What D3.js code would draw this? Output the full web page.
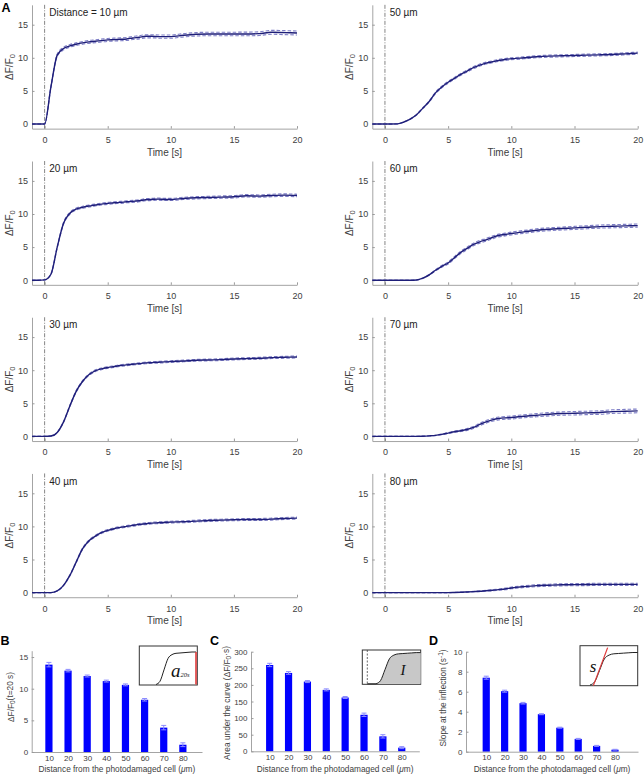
<!DOCTYPE html>
<html><head><meta charset="utf-8">
<script src="https://cdn.jsdelivr.net/npm/d3@7"></script>
<style>
body{margin:0;background:#fff;}
svg{display:block;font-family:"Liberation Sans",Arial,sans-serif;}
</style></head><body>
<svg id="c" width="644" height="776"></svg>
<script>
// ---------- DATA ----------
const times=[-1,-0.5,0,0.5,1,1.5,2,2.5,3,3.5,4,4.5,5,5.5,6,6.5,7,7.5,8,8.5,9,9.5,10,11,12,13,14,15,16,17,18,19,20];
const panelLabels=["Distance = 10 µm","20 µm","30 µm","40 µm","50 µm","60 µm","70 µm","80 µm"];
const mean10=[0,0,0,5.6,10.4,11.4,11.8,12.05,12.25,12.4,12.5,12.6,12.7,12.75,12.8,12.85,13.0,13.1,13.25,13.25,13.2,13.2,13.2,13.4,13.55,13.6,13.6,13.6,13.6,13.65,13.85,13.8,13.75];
const mean20=[0,0,0.05,0.9,5.0,8.6,10.1,10.75,11.0,11.2,11.35,11.5,11.6,11.7,11.75,11.85,11.9,12.0,12.15,12.2,12.25,12.2,12.2,12.35,12.45,12.5,12.55,12.6,12.75,12.7,12.8,12.85,12.8];
const mean30=[0,0,0,0.05,0.6,2.2,4.6,6.8,8.3,9.3,9.9,10.2,10.4,10.55,10.7,10.8,10.9,11.0,11.1,11.15,11.2,11.25,11.3,11.4,11.5,11.55,11.6,11.7,11.75,11.8,11.9,11.95,12.0];
const mean40=[0,0,0,0,0.25,1.1,2.6,4.6,6.6,7.8,8.5,9.05,9.4,9.65,9.85,10.0,10.15,10.3,10.4,10.5,10.55,10.6,10.65,10.7,10.8,10.9,10.95,11.0,11.05,11.05,11.1,11.2,11.25];
const mean50=[0,0,0,0,0.02,0.3,0.75,1.4,2.4,3.4,4.7,5.6,6.3,6.9,7.5,8.0,8.5,8.9,9.2,9.4,9.6,9.75,9.85,10.0,10.15,10.25,10.3,10.35,10.4,10.45,10.5,10.6,10.7];
const mean60=[0,0,0,0,0,0,0,0.03,0.3,0.8,1.5,2.1,2.6,3.4,4.2,4.8,5.4,5.8,6.1,6.45,6.75,6.9,7.05,7.3,7.55,7.7,7.8,7.9,8.0,8.1,8.15,8.2,8.25];
const mean70=[0,0,0,0,0,0,0,0,0.03,0.08,0.15,0.3,0.5,0.7,0.85,1.05,1.35,1.8,2.2,2.5,2.7,2.8,2.85,3.05,3.2,3.35,3.45,3.5,3.55,3.6,3.75,3.8,3.85];
const mean80=[0,0,0,0,0,0,0,0,0,0,0,0,0,0.02,0.05,0.1,0.15,0.2,0.28,0.35,0.45,0.55,0.7,0.9,1.05,1.12,1.18,1.2,1.22,1.25,1.25,1.25,1.25];
const sem10=[0,0,0,0.08,0.18,0.2,0.2,0.2,0.2,0.22,0.22,0.22,0.22,0.22,0.22,0.22,0.24,0.24,0.24,0.24,0.24,0.25,0.25,0.25,0.26,0.26,0.27,0.27,0.28,0.28,0.3,0.3,0.3];
const sem20=[0,0,0,0.05,0.12,0.15,0.15,0.15,0.15,0.15,0.15,0.15,0.15,0.15,0.15,0.15,0.16,0.16,0.16,0.16,0.16,0.16,0.16,0.17,0.17,0.17,0.18,0.18,0.18,0.18,0.19,0.19,0.19];
const sem30=[0,0,0,0,0.03,0.06,0.1,0.12,0.12,0.12,0.12,0.12,0.12,0.12,0.12,0.12,0.12,0.12,0.12,0.13,0.13,0.13,0.13,0.13,0.13,0.13,0.14,0.14,0.14,0.14,0.14,0.15,0.15];
const sem40=[0,0,0,0,0.02,0.05,0.08,0.1,0.12,0.12,0.12,0.12,0.12,0.12,0.12,0.12,0.13,0.13,0.13,0.13,0.13,0.13,0.13,0.14,0.14,0.14,0.14,0.14,0.15,0.15,0.15,0.15,0.15];
const sem50=[0,0,0,0,0,0.02,0.04,0.06,0.08,0.1,0.12,0.13,0.14,0.14,0.15,0.15,0.15,0.15,0.15,0.15,0.15,0.15,0.15,0.15,0.15,0.16,0.16,0.16,0.16,0.16,0.16,0.16,0.16];
const sem60=[0,0,0,0,0,0,0,0.01,0.03,0.06,0.1,0.13,0.15,0.17,0.18,0.19,0.2,0.2,0.2,0.21,0.21,0.21,0.21,0.22,0.22,0.22,0.22,0.23,0.23,0.23,0.24,0.24,0.24];
const sem70=[0,0,0,0,0,0,0,0,0.01,0.02,0.03,0.05,0.08,0.1,0.12,0.14,0.16,0.18,0.2,0.21,0.22,0.22,0.22,0.23,0.24,0.25,0.25,0.26,0.26,0.27,0.27,0.28,0.28];
const sem80=[0,0,0,0,0,0,0,0,0,0,0,0,0,0.01,0.02,0.03,0.04,0.05,0.06,0.08,0.1,0.12,0.13,0.14,0.15,0.15,0.16,0.16,0.16,0.17,0.17,0.17,0.17];
const xTicksA=[0,5,10,15,20];
const yTicksA=[0,5,10,15];

const barCats=["10","20","30","40","50","60","70","80"];
const ampVals=[13.8,12.85,12.0,11.2,10.6,8.25,3.85,1.15];
const ampErr=[0.35,0.2,0.15,0.15,0.15,0.2,0.35,0.3];
const aucVals=[260,236,210,185,162,110,45,11];
const aucErr=[5,4,3,3,3,5,5,3];
const slopeVals=[7.4,6.05,4.85,3.75,2.4,1.28,0.58,0.2];
const slopeErr=[0.15,0.1,0.08,0.05,0.05,0.05,0.05,0.04];
const yTicksB=[0,5,10,15];
const yTicksC=[0,50,100,150,200,250,300];
const yTicksD=[0,2,4,6,8,10];

// inset illustration curve (normalised)
const insetX=[0,1,2,3,4,5,6,7,8,9,10];
const insetY=[0,0.1,0.45,0.8,0.92,0.96,0.97,0.98,0.99,1.0,1.0];

// ---------- DRAW ----------
const svg=d3.select("#c");
const AX="#9a9a9a", TX="#404040";
const means=[mean10,mean20,mean30,mean40,mean50,mean60,mean70,mean80];
const sems=[sem10,sem20,sem30,sem40,sem50,sem60,sem70,sem80];
const cols=[[32,297],[372.3,637.7]];
const unit=6.62;

function styleAxis(g,fs){
  g.select(".domain").attr("stroke",AX).attr("stroke-width",0.9);
  g.selectAll(".tick line").attr("stroke",AX);
  g.selectAll(".tick text").attr("fill",TX).attr("font-size",fs).attr("font-family","'Liberation Sans',Arial,sans-serif");
}

means.forEach((m,i)=>{
  const c=i<4?0:1, r=i%4;
  const y0=124+r*156.2;
  const x=d3.scaleLinear().domain([-1,20]).range(cols[c]);
  const y=d3.scaleLinear().domain([-0.7,18]).range([y0+0.7*unit,y0-18*unit]);
  const g=svg.append("g");
  const gx=g.append("g").attr("transform",`translate(0,${y(-0.7)})`)
    .call(d3.axisBottom(x).tickValues(xTicksA).tickSize(-2.5).tickSizeOuter(0).tickPadding(8));
  styleAxis(gx,9);
  const gy=g.append("g").attr("transform",`translate(${x(-1)},0)`)
    .call(d3.axisLeft(y).tickValues(yTicksA).tickSize(-2.5).tickSizeOuter(0).tickPadding(4));
  styleAxis(gy,9);
  // t=0 marker
  g.append("line").attr("x1",x(0)).attr("x2",x(0)).attr("y1",y(18)).attr("y2",y(-0.7))
    .attr("stroke","#666").attr("stroke-width",0.8).attr("stroke-dasharray","4,1.5,1,1.5");
  const s=sems[i];
  const line=d3.line().x((d,k)=>x(times[k])).curve(d3.curveMonotoneX);
  [1,-1].forEach(sg=>{
    g.append("path").attr("d",line.y((d,k)=>y(m[k]+sg*s[k]))(m)).attr("fill","none")
      .attr("stroke","#7e7ec6").attr("stroke-width",1.1).attr("stroke-dasharray","3.5,2");
  });
  g.append("path").attr("d",line.y((d,k)=>y(m[k]))(m)).attr("fill","none")
    .attr("stroke","#1e1e78").attr("stroke-width",1.4);
  g.append("text").attr("x",x(0)+4.7).attr("y",y0-108).attr("font-size",10).attr("fill","#222").text(panelLabels[i]);
  g.append("text").attr("x",(cols[c][0]+cols[c][1])/2).attr("y",y0+31.5).attr("text-anchor","middle")
    .attr("font-size",10).attr("fill",TX).text("Time [s]");
  const t=g.append("text").attr("transform",`translate(${cols[c][0]-19.5},${y0-57}) rotate(-90)`)
    .attr("text-anchor","middle").attr("font-size",10).attr("fill",TX);
  t.append("tspan").text("ΔF/F");
  t.append("tspan").attr("dy","0.28em").attr("font-size",7.5).text("0");
});

// ---------- BAR PANELS ----------
function barPanel(cfg){
  const g=svg.append("g");
  const x=d3.scaleLinear().domain(cfg.xd).range(cfg.xr);
  const y=d3.scaleLinear().domain(cfg.yd).range(cfg.yr);
  const bw=7.2;
  g.selectAll("rect.bar").data(cfg.vals).join("rect").attr("class","bar")
    .attr("x",(d,k)=>x(k+1)-bw/2).attr("width",bw)
    .attr("y",d=>y(d)).attr("height",d=>y(cfg.yd[0])-y(d)).attr("fill","#0000ff");
  cfg.vals.forEach((v,k)=>{
    const e=cfg.err[k], cx=x(k+1);
    g.append("line").attr("x1",cx).attr("x2",cx).attr("y1",y(v-e)).attr("y2",y(v+e)).attr("stroke","#8c8cff").attr("stroke-width",1);
    [v-e,v+e].forEach(yy=>g.append("line").attr("x1",cx-2.5).attr("x2",cx+2.5).attr("y1",y(yy)).attr("y2",y(yy)).attr("stroke","#8c8cff").attr("stroke-width",1));
  });
  const gx=g.append("g").attr("transform",`translate(0,${cfg.yr[0]})`)
    .call(d3.axisBottom(x).tickValues([1,2,3,4,5,6,7,8]).tickFormat((d,k)=>barCats[k]).tickSize(0).tickSizeOuter(0).tickPadding(3));
  styleAxis(gx,8);
  const gy=g.append("g").attr("transform",`translate(${cfg.xr[0]},0)`)
    .call(d3.axisLeft(y).tickValues(cfg.yt).tickSize(-2.5).tickSizeOuter(0).tickPadding(3.5));
  styleAxis(gy,8);
  const xl=g.append("text").attr("x",(cfg.xr[0]+cfg.xr[1])/2).attr("y",771.5).attr("text-anchor","middle")
    .attr("font-size",8.3).attr("fill",TX);
  xl.append("tspan").text("Distance from the photodamaged cell (");
  xl.append("tspan").attr("font-style","italic").text("μ");
  xl.append("tspan").text("m)");
  const yl=g.append("text").attr("transform",`translate(${cfg.ylx},${cfg.yly}) rotate(-90)`)
    .attr("text-anchor","middle").attr("font-size",8.3).attr("fill",TX);
  cfg.ylabel(yl);
  g.append("text").attr("x",cfg.lx).attr("y",645).attr("font-size",12.5).attr("font-weight","bold").attr("fill","#000").text(cfg.letter);
  return g;
}

barPanel({xd:[0.1,9],xr:[31.7,202],yd:[0,16],yr:[752,650.7],vals:ampVals,err:ampErr,yt:yTicksB,
  ylx:13.5,yly:697,lx:0.5,letter:"B",
  ylabel:t=>{t.append("tspan").text("ΔF/F");t.append("tspan").attr("dy","0.3em").attr("font-size",6.5).text("0");t.append("tspan").attr("dy","-0.3em").text("(t=20 s)");}});
barPanel({xd:[0.01,8.93],xr:[251,419.3],yd:[0,300],yr:[751.3,651.7],vals:aucVals,err:aucErr,yt:yTicksC,
  ylx:229.5,yly:703,lx:210,letter:"C",
  ylabel:t=>{t.append("tspan").text("Area under the curve (ΔF/F");t.append("tspan").attr("dy","0.3em").attr("font-size",6.5).text("0");t.append("tspan").attr("dy","-0.3em").text("·s)");}});
barPanel({xd:[-0.1,9.25],xr:[466,638],yd:[0,10],yr:[751.7,651.7],vals:slopeVals,err:slopeErr,yt:yTicksD,
  ylx:445.5,yly:698,lx:429,letter:"D",
  ylabel:t=>{t.append("tspan").text("Slope at the inflection (s");t.append("tspan").attr("dy","-0.4em").attr("font-size",6.5).text("-1");t.append("tspan").attr("dy","0.4em").text(")");}});

// ---------- INSETS ----------
function insetBox(x0,x1,y0,y1){
  svg.append("rect").attr("x",x0).attr("y",y0).attr("width",x1-x0).attr("height",y1-y0)
    .attr("fill","#fff").attr("stroke","#333").attr("stroke-width",1);
}
// B inset
insetBox(139.3,197.3,646,685);
{
  const x=d3.scaleLinear().domain([0,10]).range([156,196]);
  const y=d3.scaleLinear().domain([0,1]).range([684.5,652]);
  svg.append("path").attr("d",d3.line().x((d,k)=>x(insetX[k])).y(d=>y(d)).curve(d3.curveMonotoneX)(insetY))
    .attr("fill","none").attr("stroke","#222").attr("stroke-width",1);
  svg.append("line").attr("x1",x(10)).attr("x2",x(10)).attr("y1",y(1)).attr("y2",y(0)).attr("stroke","#e03a3a").attr("stroke-width",1.6);
  const t=svg.append("text").attr("x",171).attr("y",677).attr("font-family","'Liberation Serif','DejaVu Serif',serif").attr("font-style","italic").attr("fill","#111");
  t.append("tspan").attr("font-size",19).text("a");
  t.append("tspan").attr("font-size",6.5).attr("dy",0).text("20s");
}
// C inset
insetBox(362.3,420.7,650,684.3);
{
  const x=d3.scaleLinear().domain([0,10]).range([376,420.7]);
  const y=d3.scaleLinear().domain([0,1]).range([683.8,652.6]);
  svg.append("path").attr("d",d3.area().x((d,k)=>x(insetX[k])).y0(y(0)).y1(d=>y(d)).curve(d3.curveMonotoneX)(insetY))
    .attr("fill","#c8c8c8").attr("stroke","none");
  svg.append("path").attr("d",d3.line().x((d,k)=>x(insetX[k])).y(d=>y(d)).curve(d3.curveMonotoneX)(insetY))
    .attr("fill","none").attr("stroke","#222").attr("stroke-width",1);
  svg.append("line").attr("x1",367.3).attr("x2",x(0)).attr("y1",y(0)).attr("y2",y(0)).attr("stroke","#222").attr("stroke-width",1);
  svg.append("line").attr("x1",367.3).attr("x2",367.3).attr("y1",650).attr("y2",684.3).attr("stroke","#444").attr("stroke-width",0.8).attr("stroke-dasharray","2,1.5");
  svg.append("text").attr("x",403).attr("y",675).attr("text-anchor","middle").attr("font-family","'Liberation Serif','DejaVu Serif',serif")
    .attr("font-style","italic").attr("font-size",15).attr("fill","#111").text("I");
}
// D inset
insetBox(580,637.7,645.7,685.7);
{
  const x=d3.scaleLinear().domain([0,10]).range([590,637.7]);
  const y=d3.scaleLinear().domain([0,1]).range([685,652.5]);
  svg.append("path").attr("d",d3.line().x((d,k)=>x(insetX[k])).y(d=>y(d)).curve(d3.curveMonotoneX)(insetY))
    .attr("fill","none").attr("stroke","#222").attr("stroke-width",1);
  svg.append("line").attr("x1",x(0.7)).attr("y1",y(-0.02)).attr("x2",x(3.7)).attr("y2",y(1.15))
    .attr("stroke","#e03a3a").attr("stroke-width",1.2);
  svg.append("text").attr("x",593).attr("y",672).attr("text-anchor","middle").attr("font-family","'Liberation Serif','DejaVu Serif',serif")
    .attr("font-style","italic").attr("font-size",17).attr("fill","#111").text("s");
}
// panel A letter
svg.append("text").attr("x",1.5).attr("y",11.8).attr("font-size",12.5).attr("font-weight","bold").attr("fill","#000").text("A");
</script>
</body></html>
